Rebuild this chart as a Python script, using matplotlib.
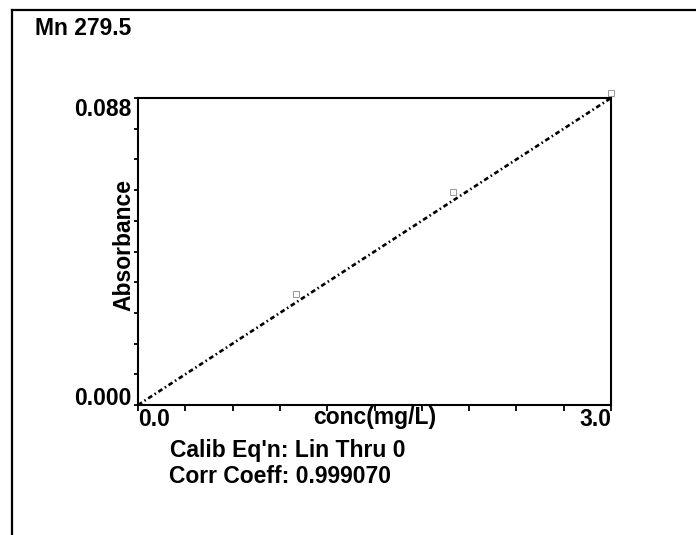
import matplotlib
matplotlib.use("Agg")
import matplotlib.pyplot as plt
from matplotlib.lines import Line2D
import numpy as np

plt.rcParams['font.family'] = ['Liberation Sans', 'DejaVu Sans']
plt.rcParams['font.weight'] = 'bold'

# Calibration data for Mn at 279.5 nm
element_label = "Mn 279.5"
std_conc = [1.0, 2.0, 3.0]             # mg/L
std_abs = [0.0318, 0.0610, 0.0895]      # absorbance
fit_slope = 0.088 / 3.0                 # linear through zero
x_range = [0.0, 3.0]
y_range = [0.0, 0.088]
x_tick_labels = ["0.0", "3.0"]
y_tick_labels = ["0.000", "0.088"]
calib_eq = "Calib Eq'n: Lin Thru 0"
corr_coeff = "Corr Coeff: 0.999070"

FS = 16.5
fig = plt.figure(figsize=(6.96, 5.35), dpi=100)
ax = fig.add_axes([138 / 696, 1 - 405 / 535, 473 / 696, 307 / 535])

# fitted calibration line
xs = np.array(x_range)
ax.plot(xs, fit_slope * xs, color='black', lw=1.9,
        linestyle=(0, (1.8, 1.1, 0.6, 1.1)), clip_on=False)
# standards (faint markers)
ax.plot(std_conc, std_abs, linestyle='none', marker='s', ms=4,
        mfc='none', mec='#888888', mew=0.6, clip_on=False)

ax.set_xlim(*x_range)
ax.set_ylim(*y_range)

xt = np.linspace(x_range[0], x_range[1], 11)
yt = np.linspace(y_range[0], y_range[1], 11)
ax.set_xticks(xt, [x_tick_labels[0]] + [''] * 9 + [x_tick_labels[1]])
ax.set_yticks(yt, [y_tick_labels[0]] + [''] * 9 + [y_tick_labels[1]])
ax.tick_params(axis='x', direction='out', length=4, width=1.3, pad=-1.5,
               labelsize=FS)
ax.tick_params(axis='y', direction='out', length=3, width=1.3, pad=2,
               labelsize=FS)
xl = ax.get_xticklabels()
xl[0].set_ha('left')
xl[-1].set_ha('right')
yl = ax.get_yticklabels()
yl[0].set_va('baseline')
yl[-1].set_va('top')
for t in xl + yl:
    t.set_fontweight('bold')

for s in ax.spines.values():
    s.set_linewidth(1.5)

ax.set_xlabel("conc(mg/L)", fontsize=FS, fontweight='bold')
ax.xaxis.set_label_coords(0.5, -0.004)
ax.set_ylabel("Absorbance", fontsize=FS, fontweight='bold')
ax.yaxis.set_label_coords(-0.006, 0.52)

fig.text(35 / 696, 1 - 35 / 535, element_label, fontsize=FS,
         fontweight='bold', va='baseline', ha='left')
fig.text(170 / 696, 1 - 457 / 535, calib_eq, fontsize=FS,
         fontweight='bold', va='baseline', ha='left')
fig.text(169 / 696, 1 - 483 / 535, corr_coeff, fontsize=FS,
         fontweight='bold', va='baseline', ha='left')

# page frame
fig.add_artist(Line2D([12 / 696, 12 / 696], [0, 1 - 10 / 535],
                      transform=fig.transFigure, color='black', lw=1.6))
fig.add_artist(Line2D([12 / 696, 1], [1 - 10 / 535, 1 - 10 / 535],
                      transform=fig.transFigure, color='black', lw=1.6))

fig.savefig("out.png", dpi=100)
